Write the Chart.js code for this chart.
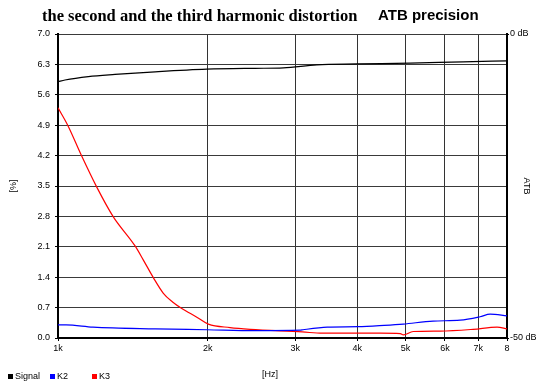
<!DOCTYPE html>
<html>
<head>
<meta charset="utf-8">
<script src="https://cdn.jsdelivr.net/npm/chart.js@4.4.0/dist/chart.umd.min.js"></script>
<style>
  html, body { margin: 0; padding: 0; background: #fff; }
  #wrap { position: relative; width: 540px; height: 389px; }
  canvas { display: block; }
</style>
</head>
<body>
<div id="wrap"><canvas id="c" width="540" height="389"></canvas></div>
<script>
// ---- data ----
const titleMain = 'the second and the third harmonic distortion';
const titleSub = 'ATB precision';
const seriesNames = ['Signal', 'K2', 'K3'];

const freqSignal = [1000, 1033, 1151, 1302, 1568, 1992, 2490, 2840, 3315, 4000, 5110, 6530, 8000];
const signal     = [5.90, 5.94, 6.02, 6.07, 6.13, 6.19, 6.21, 6.22, 6.29, 6.31, 6.33, 6.36, 6.38];

const freqK2 = [1000, 1038, 1176, 1568, 1995, 2490, 3070, 3110, 3480, 4010, 4530, 4950, 5680, 6440, 7060, 7400, 8000];
const k2     = [0.30, 0.30, 0.25, 0.21, 0.19, 0.17, 0.18, 0.19, 0.25, 0.26, 0.29, 0.32, 0.39, 0.41, 0.49, 0.55, 0.51];

const freqK3 = [1000, 1046, 1116, 1196, 1292, 1429, 1484, 1555, 1629, 1700, 1774, 1902, 2006, 2219, 2434, 3100, 3400, 4450, 4880, 4950, 5180, 5870, 6840, 7640, 8000];
const k3     = [5.30, 4.90, 4.19, 3.48, 2.79, 2.12, 1.80, 1.39, 1.03, 0.83, 0.68, 0.48, 0.32, 0.24, 0.20, 0.14, 0.11, 0.11, 0.10, 0.07, 0.15, 0.16, 0.20, 0.25, 0.21];

const xTicks = [1000, 2000, 3000, 4000, 5000, 6000, 7000, 8000];
const xTickLabels = ['1k', '2k', '3k', '4k', '5k', '6k', '7k', '8'];
const yTicks = [0, 0.7, 1.4, 2.1, 2.8, 3.5, 4.2, 4.9, 5.6, 6.3, 7.0];
const yTickLabels = ['0.0', '0.7', '1.4', '2.1', '2.8', '3.5', '4.2', '4.9', '5.6', '6.3', '7.0'];
const y2Ticks = [-50, 0];
const y2TickLabels = ['-50 dB', '0 dB'];
const xTitle = '[Hz]';
const yTitle = '[%]';
const y2Title = 'ATB';

const colors = ['#000000', '#0000ff', '#ff0000'];

function zip(xs, ys) { return xs.map((x, i) => ({ x: x, y: ys[i] })); }

const tickFont = { family: '"Liberation Sans", Arial, sans-serif', size: 9 };

const textPlugin = {
  id: 'extraText',
  afterDraw(chart) {
    const ctx = chart.ctx;
    ctx.save();
    ctx.fillStyle = '#000';
    ctx.textBaseline = 'alphabetic';
    ctx.textAlign = 'left';
    ctx.font = 'bold 16.5px "Liberation Serif", "Times New Roman", serif';
    ctx.fillText(titleMain, 42, 21);
    ctx.font = 'bold 15px "Liberation Sans", Arial, sans-serif';
    ctx.fillText(titleSub, 378, 20);
    // x axis title
    ctx.font = '9px "Liberation Sans", Arial, sans-serif';
    ctx.textAlign = 'center';
    ctx.textBaseline = 'middle';
    ctx.fillText(xTitle, 270, 375);
    // legend
    ctx.textAlign = 'left';
    chart.data.datasets.forEach((ds, i) => {
      const x0 = 8 + i * 42;
      ctx.fillStyle = ds.borderColor;
      ctx.fillRect(x0, 374, 5, 5);
      ctx.fillStyle = '#000';
      ctx.fillText(ds.label, x0 + 7, 377);
    });
    ctx.restore();
  }
};

new Chart(document.getElementById('c'), {
  type: 'line',
  data: {
    datasets: [
      { label: seriesNames[0], data: zip(freqSignal, signal), borderColor: colors[0], backgroundColor: colors[0] },
      { label: seriesNames[1], data: zip(freqK2, k2), borderColor: colors[1], backgroundColor: colors[1] },
      { label: seriesNames[2], data: zip(freqK3, k3), borderColor: colors[2], backgroundColor: colors[2] }
    ]
  },
  options: {
    responsive: false,
    animation: false,
    devicePixelRatio: 1,
    layout: { padding: { top: 34, left: 0, right: 0, bottom: 0 } },
    elements: {
      point: { radius: 0 },
      line: { borderWidth: 1.2, cubicInterpolationMode: 'monotone', fill: false }
    },
    plugins: {
      legend: { display: false },
      title: { display: false },
      tooltip: { enabled: false }
    },
    scales: {
      x: {
        type: 'logarithmic',
        position: 'bottom',
        min: 1000,
        max: 8000,
        afterBuildTicks: (s) => { s.ticks = xTicks.map(v => ({ value: v })); },
        afterFit: (s) => { s.height = 51; },
        ticks: {
          autoSkip: false,
          maxRotation: 0,
          padding: 2,
          color: '#000',
          font: tickFont,
          callback: (v, i) => xTickLabels[i]
        },
        grid: { color: '#333', lineWidth: 1, tickLength: 3, tickColor: '#000' },
        border: { color: '#000', width: 2 }
      },
      y: {
        position: 'left',
        min: 0,
        max: 7,
        afterBuildTicks: (s) => { s.ticks = yTicks.map(v => ({ value: v })); },
        afterFit: (s) => { s.width = 58; },
        ticks: {
          padding: 5,
          color: '#000',
          font: tickFont,
          callback: (v, i) => yTickLabels[i]
        },
        title: { display: true, text: yTitle, color: '#000', font: tickFont, padding: { top: 8, bottom: 0 } },
        grid: { color: '#3a3a3a', lineWidth: 1, tickLength: 3, tickColor: '#000' },
        border: { color: '#000', width: 2 }
      },
      y2: {
        position: 'right',
        min: -50,
        max: 0,
        afterBuildTicks: (s) => { s.ticks = y2Ticks.map(v => ({ value: v })); },
        afterFit: (s) => { s.width = 33; },
        ticks: {
          padding: 1,
          color: '#000',
          font: tickFont,
          callback: (v, i) => y2TickLabels[i]
        },
        title: { display: true, text: y2Title, color: '#000', font: tickFont, padding: { top: 8, bottom: 0 } },
        grid: { drawOnChartArea: false, tickLength: 2, tickColor: '#000' },
        border: { color: '#000', width: 2 }
      }
    }
  },
  plugins: [textPlugin]
});
</script>
</body>
</html>
